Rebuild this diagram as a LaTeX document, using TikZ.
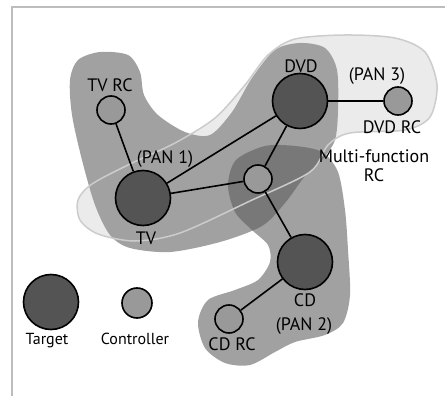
\documentclass[tikz,border=0pt]{standalone}
\usepackage{fontspec}
\setmainfont{PT Sans}
\usepackage{xcolor}
\usepackage{tikz}
\usetikzlibrary{positioning}

\definecolor{framegray}{gray}{0.74}
\definecolor{pangray}{gray}{0.63}
\definecolor{overlapgray}{gray}{0.47}
\definecolor{panthreefill}{gray}{0.92}
\definecolor{panthreeline}{gray}{0.80}
\definecolor{targetfill}{gray}{0.33}
\definecolor{ctrlfill}{gray}{0.60}

% outlines of the three PANs
\def\panone{plot[smooth cycle] coordinates {(100,52) (128,55) (140,72) (144,95) (158,115) (185,132) (210,135) (232,112) (252,78) (275,50) (300,43) (325,48) (337,70) (338,110) (335,140) (322,160) (305,176) (285,203) (262,226) (220,242) (170,252) (130,248) (110,235) (95,205) (82,160) (72,115) (70,80) (78,60)}}
\def\pantwo{plot[smooth cycle] coordinates {(265,146) (295,146) (322,152) (338,172) (345,210) (348,250) (350,295) (343,323) (325,335) (295,342) (275,352) (250,365) (225,363) (205,348) (198,322) (208,300) (235,290) (258,280) (270,262) (268,245) (252,230) (235,212) (228,185) (236,160)}}
\def\panthree{plot[smooth cycle] coordinates {(78,200) (92,184) (130,164) (175,143) (215,118) (245,85) (268,55) (295,39) (345,35) (395,38) (425,52) (437,85) (430,117) (405,130) (350,133) (328,145) (310,172) (250,201) (180,233) (135,241) (98,234) (80,220)}}

\begin{document}
\begin{tikzpicture}[x=1pt,y=-1pt]
	\tikzstyle{targetnode}=[circle,draw=black,line width=1.6pt,fill=targetfill,minimum size=55pt,inner sep=0pt]
	\tikzstyle{ctrlnode}=[circle,draw=black,line width=1.6pt,fill=ctrlfill,minimum size=28pt,inner sep=0pt]
	\tikzstyle{lbl}=[font=\fontsize{18}{20}\selectfont,anchor=base,inner sep=0pt]
	\tikzstyle{key}=[font=\fontsize{16}{18}\selectfont,anchor=base,inner sep=0pt]
	\tikzstyle{link}=[draw=black,line width=1.6pt]
	\useasboundingbox (0,0) rectangle (445,396);
	\draw[framegray,line width=1.5pt] (12,396) -- (12,7) -- (445,7);

	% PAN areas
	\fill[panthreefill] \panthree;
	\fill[pangray] \panone;
	\fill[pangray] \pantwo;
	\begin{scope}
		\clip \panone;
		\fill[overlapgray] \pantwo;
	\end{scope}
	\draw[panthreeline,line width=1.5pt] \panthree;

	% devices
	\node[ctrlnode](tvrc) at (111,110) {};
	\node[targetnode](tv) at (143,198) {};
	\node[targetnode](dvd) at (300,101) {};
	\node[ctrlnode](dvdrc) at (398,101) {};
	\node[ctrlnode](mfrc) at (258,179) {};
	\node[targetnode](cd) at (305,262) {};
	\node[ctrlnode](cdrc) at (229,319) {};
	\path[link]
		(tvrc) edge (tv)
		(tv) edge (dvd)
		(tv) edge (mfrc)
		(dvd) edge (mfrc)
		(dvd) edge (dvdrc)
		(mfrc) edge (cd)
		(cd) edge (cdrc);

	% labels
	\node[lbl](tvrclbl) at (110,92) {TV RC};
	\node[lbl](panonelbl) at (165,163) {(PAN 1)};
	\node[lbl](tvlbl) at (146,244) {TV};
	\node[lbl](dvdlbl) at (301,73) {DVD};
	\node[lbl](panthreelbl) at (377,81) {(PAN 3)};
	\node[lbl](dvdrclbl) at (392,133) {DVD RC};
	\node[lbl,align=center](mfrclbl) at (374,182) {Multi-function\\RC};
	\node[lbl](cdlbl) at (305,306) {CD};
	\node[lbl](pantwolbl) at (304,330) {(PAN 2)};
	\node[lbl](cdrclbl) at (232,350) {CD RC};

	% legend
	\node[targetnode](keytarget) at (51,302) {};
	\node[ctrlnode,minimum size=30pt](keyctrl) at (137,303) {};
	\node[key](keytargetlbl) at (47,344) {Target};
	\node[key](keyctrllbl) at (135,344) {Controller};
\end{tikzpicture}
\end{document}
